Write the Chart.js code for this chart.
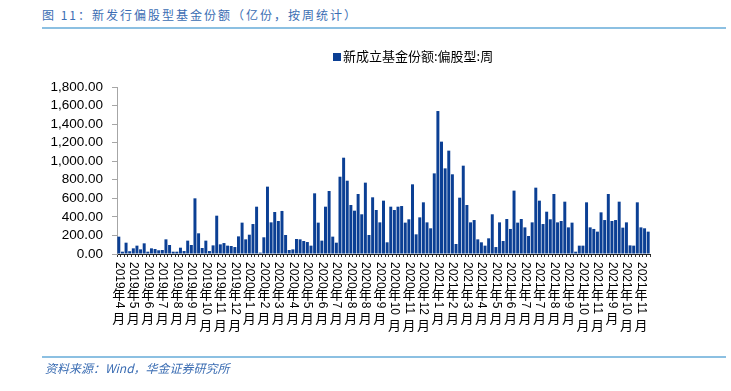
<!DOCTYPE html>
<html><head><meta charset="utf-8">
<script src="https://cdn.jsdelivr.net/npm/chart.js@4.4.1/dist/chart.umd.min.js"></script>
<style>
html,body{margin:0;padding:0;background:#fff;width:731px;height:391px;overflow:hidden;}
#wrap{position:relative;width:731px;height:391px;}
#c{position:absolute;left:0;top:0;}
.title{position:absolute;left:42px;top:7px;font-size:12px;font-family:"Noto Sans CJK SC";color:#3b6db3;letter-spacing:2px;white-space:nowrap;line-height:16px;}
.hline{position:absolute;left:42px;width:684px;height:2px;background:#8cc0e2;}
.legend{position:absolute;left:333px;top:47px;font-size:13px;font-family:"Noto Sans CJK SC";color:#000;white-space:nowrap;line-height:18px;}
.legend i{display:inline-block;width:8px;height:8px;background:#0b3f94;margin-right:2px;vertical-align:0px;}
.src{position:absolute;left:45px;top:360px;font-size:12px;font-family:"Noto Sans CJK SC";font-style:italic;color:#3b6db3;white-space:nowrap;line-height:16px;}
</style></head>
<body><div id="wrap">
<div class="title">图 11：新发行偏股型基金份额（亿份，按周统计）</div>
<div class="hline" style="top:27px"></div>
<canvas id="c" width="731" height="391"></canvas>
<div class="legend"><i></i>新成立基金份额:偏股型:周</div>
<div class="hline" style="top:356px"></div>
<div class="src">资料来源：Wind，华金证券研究所</div>
</div>
<script>
const seriesName = '新成立基金份额:偏股型:周';
// weekly values (亿份)
const values = [
187,25,122,30,61,90,50,115,25,61,54,40,43,158,97,25,25,68,32,144,97,600,223,65,144,32,93,413,104,118,90,86,75,190,338,158,208,
323,510,15,180,726,341,453,356,464,205,43,50,162,158,140,129,90,654,338,144,510,679,187,122,833,1038,790,528,467,647,428,769,205,611,474,341,
575,126,510,474,510,517,338,374,751,212,395,557,341,277,869,1541,1211,923,1114,859,108,607,952,528,341,366,158,126,90,169,428,75,341,140,377,
270,683,338,377,287,194,341,715,575,323,456,374,647,341,356,564,287,338,25,90,90,557,287,270,241,449,366,647,356,366,564,284,341,93,90,557,287,277,241
];
// x tick labels, one every 4 weeks (as printed on the axis)
const tickYears  = [2019,2019,2019,2019,2019,2019,2019,2019,2019,
                    2020,2020,2020,2020,2020,2020,2020,2020,2020,2020,2020,2020,2020,
                    2021,2021,2021,2021,2021,2021,2021,2021,2021,2021,2021,2021,2021,2021,2021];
const tickMonths = [4,5,6,7,8,9,10,11,12,
                    1,2,3,4,5,6,7,8,8,9,10,11,12,
                    1,2,3,4,5,6,7,7,8,9,10,11,9,10,11];
const tickEvery = 4;
const yTicks = [0,200,400,600,800,1000,1200,1400,1600,1800];

// category for each weekly bar: the month label of its 4-week block
const categories = values.map((v, i) => {
  const k = Math.min(Math.floor(i / tickEvery), tickYears.length - 1);
  return tickYears[k] + '年' + tickMonths[k] + '月';
});

const xLabelPlugin = {
  id: 'xlab',
  afterDraw(chart) {
    const ctx = chart.ctx, xs = chart.scales.x;
    const num = '12px "Liberation Sans", Arial, sans-serif';
    const cjk = '13px "Noto Sans CJK SC", sans-serif';
    ctx.save();
    ctx.fillStyle = '#000';
    tickYears.forEach((yr, k) => {
      const idx = k * tickEvery;
      if (idx >= values.length) return;
      const x = xs.getPixelForValue(idx);
      let yy = 262;
      ctx.save();
      ctx.font = num;
      ctx.translate(x, yy);
      ctx.rotate(Math.PI / 2);
      ctx.textAlign = 'left'; ctx.textBaseline = 'middle';
      const ys = String(yr);
      ctx.fillText(ys, 0, 0);
      const wy = ctx.measureText(ys).width;
      ctx.restore();
      yy += wy;
      ctx.font = cjk; ctx.textAlign = 'center'; ctx.textBaseline = 'top';
      ctx.fillText('年', x, yy - 1);
      yy += 13;
      ctx.save();
      ctx.font = num;
      ctx.translate(x, yy);
      ctx.rotate(Math.PI / 2);
      ctx.textAlign = 'left'; ctx.textBaseline = 'middle';
      const ms = String(tickMonths[k]);
      ctx.fillText(ms, 0, 0);
      const wm = ctx.measureText(ms).width;
      ctx.restore();
      yy += wm + (ms.length > 1 ? 4 : 3);
      ctx.font = cjk; ctx.textAlign = 'center'; ctx.textBaseline = 'top';
      ctx.fillText('月', x, yy);
    });
    ctx.restore();
  }
};

new Chart(document.getElementById('c'), {
  type: 'bar',
  data: {
    labels: categories,
    datasets: [{
      label: seriesName,
      data: values,
      backgroundColor: '#0b3f94',
      borderWidth: 0,
      barPercentage: 0.82,
      categoryPercentage: 1.0
    }]
  },
  options: {
    responsive: false,
    animation: false,
    devicePixelRatio: 1,
    layout: {padding: {top: 87, right: 81, left: 0, bottom: 0}},
    plugins: {legend: {display: false}, tooltip: {enabled: false}},
    scales: {
      x: {
        type: 'category',
        offset: true,
        grid: {offset: true, drawOnChartArea: false, drawTicks: true, tickLength: 3, color: '#333'},
        border: {display: true, color: '#222', width: 1},
        ticks: {display: false},
        afterFit(s) { s.height = 137; }
      },
      y: {
        min: 0, max: 1800,
        afterBuildTicks(s) { s.ticks = yTicks.map(v => ({value: v})); },
        grid: {drawOnChartArea: false, drawTicks: true, tickLength: 5, color: '#a6a6a6'},
        border: {display: true, color: '#a6a6a6', width: 1},
        ticks: {
          autoSkip: false,
          padding: 9,
          color: '#000',
          font: {family: '"Liberation Sans", Arial, sans-serif', size: 13.5},
          callback: v => Number(v).toLocaleString('en-US', {minimumFractionDigits: 2, maximumFractionDigits: 2})
        },
        afterFit(s) { s.width = 117; }
      }
    }
  },
  plugins: [xLabelPlugin]
});
</script>
</body></html>
